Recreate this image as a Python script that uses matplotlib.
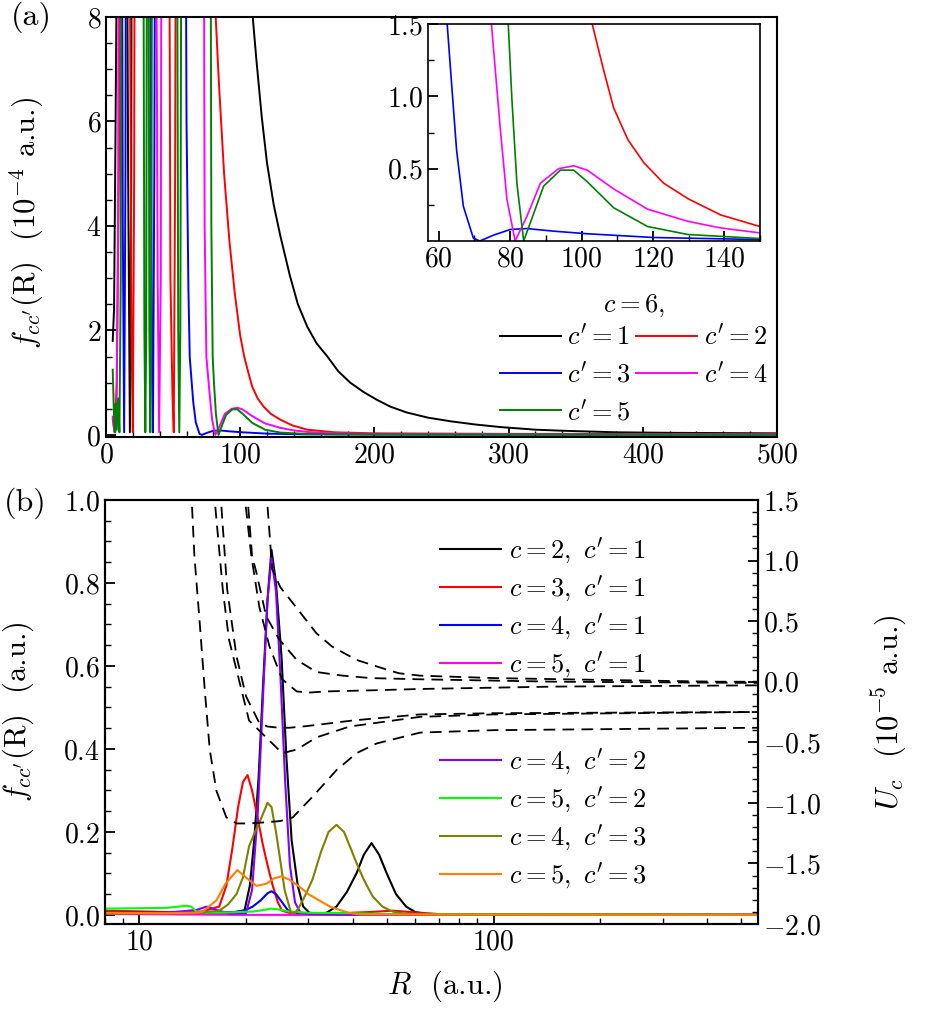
import matplotlib
matplotlib.use("Agg")
import matplotlib.pyplot as plt
from matplotlib.ticker import MultipleLocator, NullFormatter, FixedLocator

plt.rcParams['font.family'] = 'serif'
plt.rcParams['font.serif'] = ['cmr10']
plt.rcParams['mathtext.fontset'] = 'cm'
plt.rcParams['axes.formatter.use_mathtext'] = True
plt.rcParams['axes.unicode_minus'] = True

# ---------------- panel (a): c = 6, c' = 1..5  (10^-4 a.u.) ----------------
ra_1 = [5, 6, 7, 8, 10, 14, 16.5, 17.8, 18.8, 19.8, 60, 100, 104, 108, 112, 116, 120, 125, 130,
        137, 143, 150, 157, 165, 173, 182, 192, 202, 212, 224, 240, 257, 275, 294, 320, 340, 380,
        420, 500]
fa_1 = [1.8, 2.4, 5.5, 9, 20, 20, 5, 0.05, 5, 20, 30, 14, 10.5, 8.4, 7.2, 6.1, 5.2, 4.4, 3.8,
        3.05, 2.5, 2.07, 1.75, 1.5, 1.22, 1.0, 0.82, 0.67, 0.54, 0.43, 0.33, 0.26, 0.2, 0.15, 0.1,
        0.08, 0.05, 0.04, 0.03]

ra_2 = [5, 6.5, 8, 10, 12, 16, 19, 20, 21, 22, 46, 48, 49.5, 50.5, 51.5, 53, 78, 81, 84, 88, 92,
        96, 100, 103, 106, 109, 113, 117.5, 123, 130, 139, 150, 170, 200, 300, 500]
fa_2 = [0.3, 0.05, 1.0, 6, 20, 20, 2, 0.05, 5, 20, 20, 3, 0.8, 0.05, 5, 20, 20, 8.4, 6.8, 5.0, 3.7,
        2.7, 1.9, 1.5, 1.2, 0.92, 0.7, 0.54, 0.40, 0.29, 0.18, 0.10, 0.05, 0.03, 0.02, 0.02]

ra_3 = [9, 11, 12.5, 13.5, 14.5, 15.5, 32, 34, 35, 36, 37.5, 58, 60, 61.4, 62.4, 63.6, 65, 66.9,
        69.7, 71.5, 75.3, 80.1, 84.7, 92.2, 101.6, 120.3, 150, 200, 300, 500]
fa_3 = [20, 20, 4, 0.05, 5, 20, 20, 2, 0.05, 5, 20, 20, 6, 2.8, 1.49, 1.09, 0.63, 0.24,
        0.02, 0.0, 0.04, 0.08, 0.086, 0.068, 0.05, 0.024, 0.01, 0.006, 0.004, 0.003]

ra_4 = [5, 6, 7, 8, 9, 10, 36, 38.5, 39.6, 40.8, 42, 72, 73.5, 74.8, 77.2, 79.1, 81.4, 84.7, 88.5,
        93.6, 97.8, 101.6, 109, 118.5, 129.8, 139, 150, 170, 200, 300, 500]
fa_4 = [0.35, 0.1, 0.05, 0.8, 4, 20, 20, 3, 0.05, 3, 20, 20, 4, 1.49, 0.79, 0.29, 0.0, 0.17, 0.40,
        0.50, 0.52, 0.49, 0.36, 0.22, 0.136, 0.09, 0.056, 0.03, 0.02, 0.012, 0.01]

ra_5 = [5, 5.8, 6.5, 7.3, 8, 9, 10, 11, 12, 27, 28.6, 29.3, 30, 31, 32.3, 33, 33.7, 35, 52, 53.8,
        54.6, 55.4, 57, 77, 78.5, 79.5, 80.5, 81.9, 83.8, 86.6, 89.4, 94.1, 97.8, 101.6, 109,
        118.5, 129.8, 150, 200, 300, 500]
fa_5 = [1.25, 0.5, 0.05, 0.6, 0.1, 0.7, 0.05, 3, 20, 20, 2, 0.05, 2, 20, 2, 0.05, 2, 20, 20, 2,
        0.05, 2, 20, 20, 4, 1.49, 0.98, 0.40, 0.0, 0.19, 0.38, 0.49, 0.49, 0.41, 0.23,
        0.10, 0.045, 0.017, 0.01, 0.008, 0.006]

labels_a = ["$c'=1$", "$c'=2$", "$c'=3$", "$c'=4$", "$c'=5$"]
colors_a = ['black', '#ff0000', '#0000ff', '#ff00ff', '#008000']

# ---------------- panel (b): f_cc'(R) (a.u.) ----------------
rb_21 = [8, 12, 16, 19, 19.8, 20.5, 21.1, 21.7, 22.3, 23.0, 23.6, 24.3, 25.2, 26.0, 26.9, 28, 29,
         30.2, 32, 33.7, 36, 38.5, 41, 43, 45.2, 47.5, 49.9, 53, 56.6, 60, 64.6, 80, 150, 557]
fb_21 = [0.008, 0.006, 0.006, 0.006, 0.01, 0.07, 0.18, 0.33, 0.54, 0.76, 0.88, 0.80, 0.62, 0.38,
         0.18, 0.07, 0.02, 0.005, 0.003, 0.005, 0.02, 0.055, 0.10, 0.145, 0.173, 0.145, 0.10,
         0.05, 0.02, 0.007, 0.002, 0.0, 0.0, 0.0]

rb_31 = [8, 12, 15, 16.8, 17.6, 18.3, 19.0, 19.6, 20.2, 20.8, 21.5, 22.3, 23.0, 23.8, 24.6, 25.3,
         27, 35, 45, 52, 60, 70, 557]
fb_31 = [0.01, 0.007, 0.008, 0.02, 0.07, 0.16, 0.26, 0.32, 0.337, 0.30, 0.24, 0.17, 0.12, 0.07,
         0.03, 0.01, 0.003, 0.003, 0.007, 0.01, 0.006, 0.002, 0.0]

rb_41 = [8, 15, 18.3, 20.0, 20.9, 22.0, 23.0, 23.6, 24.3, 25.3, 26.2, 27, 30, 557]
fb_41 = [0.005, 0.005, 0.006, 0.012, 0.02, 0.035, 0.052, 0.057, 0.05, 0.03, 0.012, 0.005, 0.002, 0.0]

rb_51 = [8, 20, 40, 100, 557]
fb_51 = [0.002, 0.0, 0.0, 0.0, 0.0]

rb_42 = [8, 12, 14.5, 15.5, 16.5, 18, 20, 20.8, 21.6, 22.4, 23.0, 23.6, 24.3, 25.0, 25.8, 26.6,
         27.5, 28.5, 30, 40, 557]
fb_42 = [0.005, 0.005, 0.012, 0.02, 0.012, 0.003, 0.004, 0.06, 0.25, 0.55, 0.76, 0.86, 0.78, 0.58,
         0.32, 0.12, 0.03, 0.005, 0.002, 0.0, 0.0]

rb_52 = [8, 10, 12, 13.6, 14.0, 14.5, 15.5, 18, 21, 22.5, 23.5, 24.8, 26.5, 30, 40, 50, 557]
fb_52 = [0.015, 0.016, 0.017, 0.022, 0.02, 0.008, 0.005, 0.006, 0.008, 0.012, 0.015, 0.013, 0.008,
         0.005, 0.004, 0.002, 0.0]

rb_43 = [8, 14, 16.8, 17.8, 18.8, 19.6, 20.4, 21.2, 22.0, 23.0, 23.6, 24.3, 25.0, 25.7, 26.8, 27.5,
         28.3, 29.5, 30.8, 32.5, 34.2, 36.0, 37.8, 39.5, 41, 43, 45.5, 48.5, 51.8, 56, 65, 557]
fb_43 = [0.003, 0.004, 0.01, 0.025, 0.05, 0.09, 0.165, 0.2, 0.23, 0.27, 0.26, 0.20, 0.13, 0.06,
         0.005, 0.004, 0.02, 0.05, 0.085, 0.15, 0.2, 0.217, 0.2, 0.16, 0.125, 0.085, 0.045, 0.02,
         0.008, 0.003, 0.001, 0.0]

rb_53 = [8, 12, 15, 16.5, 17.5, 18.9, 20, 21.4, 22.8, 24, 25.2, 26.5, 28.3, 30, 32.3, 34.5, 36.7,
         39, 41.8, 557]
fb_53 = [0.005, 0.004, 0.006, 0.035, 0.075, 0.108, 0.09, 0.07, 0.075, 0.088, 0.093, 0.085, 0.068,
         0.05, 0.034, 0.02, 0.012, 0.005, 0.001, 0.0]

# potential curves U_c (10^-5 a.u.), dashed
ru_1 = [22.8, 23.7, 25, 27.1, 31.6, 35, 41, 49.9, 54, 62, 100, 200, 430, 557]
uu_1 = [1.6, 0.93, 0.78, 0.65, 0.40, 0.29, 0.18, 0.10, 0.07, 0.05, 0.03, 0.015, 0.0, 0.0]
ru_2 = [20.1, 20.8, 21.4, 22.8, 24.8, 27.8, 31.6, 37.5, 45, 62, 150, 557]
uu_2 = [1.6, 1.04, 0.90, 0.54, 0.35, 0.18, 0.08, 0.05, 0.03, 0.02, 0.0, -0.01]
ru_3 = [19.7, 20.7, 21.8, 23.3, 25.3, 27.8, 30, 33.7, 46.7, 62, 150, 557]
uu_3 = [1.6, 1.04, 0.62, 0.29, 0.02, -0.08, -0.09, -0.08, -0.07, -0.06, -0.04, -0.03]
ru_4 = [16.9, 17.7, 18.8, 20, 21.8, 23.0, 24.8, 26.5, 28.9, 33, 40, 62, 100, 557]
uu_4 = [1.6, 0.76, 0.21, -0.12, -0.34, -0.37, -0.38, -0.38, -0.37, -0.35, -0.32, -0.27, -0.26, -0.25]
ru_5 = [16.2, 17.2, 17.9, 19.2, 20.4, 22.8, 25.3, 27.8, 31.6, 39.2, 62, 100, 557]
uu_5 = [1.6, 0.76, 0.35, -0.01, -0.32, -0.46, -0.59, -0.56, -0.46, -0.37, -0.29, -0.27, -0.25]
ru_6 = [14.0, 14.3, 14.8, 15.3, 15.8, 16.5, 17.6, 18.8, 20.5, 22.8, 25, 27.1, 30.8, 36, 41, 46.7,
        62, 100, 557]
uu_6 = [1.6, 1.04, 0.49, -0.07, -0.56, -0.90, -1.12, -1.17, -1.17, -1.16, -1.15, -1.12, -0.95,
        -0.73, -0.59, -0.51, -0.42, -0.40, -0.38]

fig = plt.figure(figsize=(9.26, 10.13), dpi=100)
W, H = 926.0, 1013.0

def tick_style(ax, size=20):
    ax.tick_params(which='both', direction='in', labelsize=size)
    ax.tick_params(which='major', length=7, width=1.3)
    ax.tick_params(which='minor', length=4, width=1.0)
    for s in ax.spines.values():
        s.set_linewidth(1.5)

# ---- (a)
ax1 = fig.add_axes([106 / W, 1 - 437 / H, (777 - 106) / W, (437 - 17) / H])
handles = []
for r, f, c, lab in zip([ra_1, ra_2, ra_3, ra_4, ra_5], [fa_1, fa_2, fa_3, fa_4, fa_5],
                        colors_a, labels_a):
    h, = ax1.plot(r, f, color=c, lw=1.4, label=lab)
    handles.append(h)
ax1.set_xlim(0, 500)
ax1.set_ylim(-0.04, 8)
ax1.xaxis.set_major_locator(MultipleLocator(100))
ax1.xaxis.set_minor_locator(MultipleLocator(20))
ax1.yaxis.set_major_locator(MultipleLocator(2))
ax1.yaxis.set_minor_locator(MultipleLocator(0.5))
tick_style(ax1)
ax1.set_ylabel(r"$f_{cc'}$(R)  (10$^{-4}$ a.u.)", fontsize=22)
ax1.yaxis.set_label_coords(-0.09, 0.51)
order = [0, 2, 4, 1, 3]
leg = ax1.legend([handles[i] for i in order], [labels_a[i] for i in order], ncol=2,
                 title=r"$c=6,$", fontsize=19, title_fontsize=19, frameon=False,
                 loc='upper left', bbox_to_anchor=(0.587, 0.345), borderaxespad=0, borderpad=0,
                 handlelength=2.3, handletextpad=0.25, columnspacing=0.2, labelspacing=0.45)
leg._legend_box.sep = 4

ins = fig.add_axes([428 / W, 1 - 241 / H, (760 - 428) / W, (241 - 24) / H])
for r, f, c in zip([ra_2, ra_3, ra_4, ra_5], [fa_2, fa_3, fa_4, fa_5], colors_a[1:]):
    ins.plot(r, f, color=c, lw=1.2)
ins.set_xlim(57, 150)
ins.set_ylim(0, 1.5)
ins.xaxis.set_major_locator(MultipleLocator(20))
ins.xaxis.set_minor_locator(MultipleLocator(10))
ins.yaxis.set_major_locator(FixedLocator([0.5, 1.0, 1.5]))
ins.yaxis.set_minor_locator(FixedLocator([0.25, 0.75, 1.25]))
tick_style(ins)
for s in ins.spines.values():
    s.set_linewidth(1.2)

# ---- (b)
ax2 = fig.add_axes([105 / W, 1 - 924 / H, (758 - 105) / W, (924 - 500) / H])
specs = [(rb_21, fb_21, 'black', r"$c=2,\ c'=1$"),
         (rb_31, fb_31, '#ff0000', r"$c=3,\ c'=1$"),
         (rb_41, fb_41, '#0000ff', r"$c=4,\ c'=1$"),
         (rb_51, fb_51, '#ff00ff', r"$c=5,\ c'=1$"),
         (rb_42, fb_42, '#8000ff', r"$c=4,\ c'=2$"),
         (rb_52, fb_52, '#00ff00', r"$c=5,\ c'=2$"),
         (rb_43, fb_43, '#808000', r"$c=4,\ c'=3$"),
         (rb_53, fb_53, '#ff8000', r"$c=5,\ c'=3$")]
hb = []
for r, f, c, lab in specs:
    h, = ax2.plot(r, f, color=c, lw=1.5, label=lab)
    hb.append(h)
ax2.set_xscale('log')
ax2.set_xlim(8, 557)
ax2.set_ylim(-0.022, 1.0)
ax2.set_xticks([10, 100])
ax2.set_xticklabels(['10', '100'])
ax2.xaxis.set_minor_formatter(NullFormatter())
ax2.yaxis.set_major_locator(MultipleLocator(0.2))
ax2.yaxis.set_minor_locator(MultipleLocator(0.05))
tick_style(ax2)
ax2.set_ylabel(r"$f_{cc'}$(R)  (a.u.)", fontsize=22)
ax2.yaxis.set_label_coords(-0.105, 0.5)
ax2.set_xlabel(r"$R$  (a.u.)", fontsize=22)
ax2.xaxis.set_label_coords(0.52, -0.105)

ax2r = ax2.twinx()
for r, u in zip([ru_1, ru_2, ru_3, ru_4, ru_5, ru_6], [uu_1, uu_2, uu_3, uu_4, uu_5, uu_6]):
    ax2r.plot(r, u, color='black', lw=1.3, dashes=(6.5, 4))
ax2r.set_xlim(8, 557)
ax2r.set_ylim(-2.0, 1.5)
ax2r.yaxis.set_major_locator(MultipleLocator(0.5))
ax2r.yaxis.set_minor_locator(MultipleLocator(0.1))
tick_style(ax2r)
ax2r.tick_params(which='both', left=False, labelleft=False)
ax2.tick_params(which='both', right=False, top=False)
ax2r.set_ylabel(r"$U_c$  (10$^{-5}$ a.u.)", fontsize=22)
ax2r.yaxis.set_label_coords(1.17, 0.5)

leg1 = ax2r.legend(hb[:4], [s[3] for s in specs[:4]], fontsize=19, frameon=False,
                   loc='upper left', bbox_to_anchor=(0.513, 0.915), borderaxespad=0, borderpad=0,
                   handlelength=2.3, handletextpad=0.3, labelspacing=0.3)
ax2r.add_artist(leg1)
ax2r.legend(hb[4:], [s[3] for s in specs[4:]], fontsize=19, frameon=False,
            loc='upper left', bbox_to_anchor=(0.513, 0.418), borderaxespad=0, borderpad=0,
            handlelength=2.3, handletextpad=0.3, labelspacing=0.3)

fig.text(31 / W, 1 - 17 / H, '(a)', fontsize=23, ha='center', va='center')
fig.text(25 / W, 1 - 503 / H, '(b)', fontsize=23, ha='center', va='center')

fig.savefig('out.png', dpi=100)
